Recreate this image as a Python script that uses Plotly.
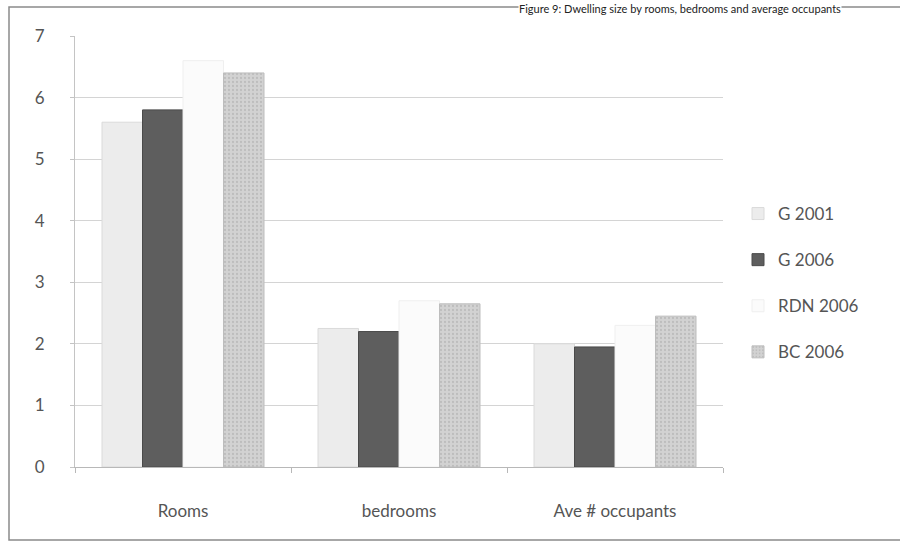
import plotly.graph_objects as go

categories = ["Rooms", "bedrooms", "Ave # occupants"]
series_names = ["G 2001", "G 2006", "RDN 2006", "BC 2006"]
g2001 = [5.6, 2.25, 2.0]
g2006 = [5.8, 2.2, 1.95]
rdn2006 = [6.6, 2.7, 2.3]
bc2006 = [6.4, 2.65, 2.45]
y_ticks = [0, 1, 2, 3, 4, 5, 6, 7]
title_text = "Figure 9: Dwelling size by rooms, bedrooms and average occupants"

values = [g2001, g2006, rdn2006, bc2006]
fills = ["#ececec", "#5e5e5e", "#fbfbfb", "#cfcfcf"]
edges = ["#dadada", "#4a4a4a", "#efefef", "#bdbdbd"]

fig = go.Figure()
for i, (name, vals) in enumerate(zip(series_names, values)):
    marker = dict(color=fills[i], line=dict(color=edges[i], width=1))
    if i == 3:
        marker["pattern"] = dict(shape=".", fgcolor="#a8a8a8", bgcolor="#d2d2d2",
                                 size=4, solidity=0.25)
    fig.add_trace(go.Bar(x=categories, y=vals, name=name, marker=marker,
                         legendgroup=name))

L, R, T, B = 75, 177, 36, 82
W, H = 900, 549
pw = W - L - R
ph = H - T - B

def px_x(x):
    return (x - L) / pw

def px_y(y):
    return (H - B - y) / ph

fig.update_layout(
    width=W, height=H,
    margin=dict(l=L, r=R, t=T, b=B),
    paper_bgcolor="white", plot_bgcolor="white",
    barmode="group", bargap=0.25, bargroupgap=0.0,
    font=dict(family="Lato, Open Sans, sans-serif", color="#444444", size=16),
    showlegend=True,
    legend=dict(x=px_x(738), y=px_y(283), xanchor="left", yanchor="middle",
                font=dict(size=17, color="#555555"), tracegroupgap=21,
                traceorder="grouped", bgcolor="rgba(0,0,0,0)"),
    xaxis=dict(showgrid=False, showline=True, linecolor="#b8b8b8", linewidth=1,
               ticks="outside", tickson="boundaries", ticklen=5, tickcolor="#b8b8b8",
               tickfont=dict(size=17, color="#555555"), ticklabelstandoff=29),
    yaxis=dict(range=[0, 7], tickvals=y_ticks, showgrid=True, gridcolor="#d4d4d4",
               gridwidth=1, showline=True, linecolor="#c4c4c4", linewidth=1,
               ticks="outside", ticklen=4, tickcolor="#c4c4c4", zeroline=False,
               tickfont=dict(size=17, color="#555555"), ticklabelstandoff=22),
    annotations=[dict(text=title_text, xref="paper", yref="paper",
                      x=px_x(842), y=px_y(1), xanchor="right", yanchor="top",
                      showarrow=False, bgcolor="white", borderpad=0,
                      font=dict(size=11, color="#222222"))],
    shapes=[dict(type="rect", xref="paper", yref="paper",
                 x0=px_x(9), x1=px_x(906), y0=px_y(540), y1=px_y(7),
                 line=dict(color="#8a8a8a", width=1.5), fillcolor="rgba(0,0,0,0)",
                 layer="below")],
)

fig.write_html("out.html")
